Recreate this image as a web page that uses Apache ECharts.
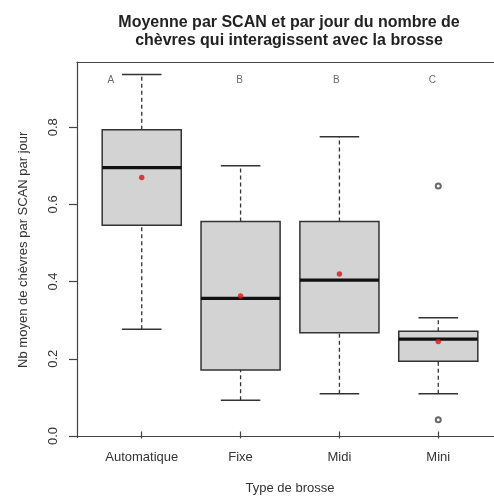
<!DOCTYPE html>
<html>
<head>
<meta charset="utf-8">
<style>
  html, body { margin: 0; padding: 0; background: #fff; }
  #chart { width: 494px; height: 500px; }
</style>
<script src="https://cdn.jsdelivr.net/npm/echarts@6/dist/echarts.min.js"></script>
</head>
<body>
<div id="chart"></div>
<script>
// brush types and their box stats: [min, Q1, median, Q3, max] (whiskers)
const categories = ['Automatique', 'Fixe', 'Midi', 'Mini'];
const lowWhisker = [0.268, 0.082, 0.099, 0.099];
const q1 = [0.541, 0.161, 0.259, 0.184];
const medians = [0.692, 0.349, 0.397, 0.242];
const q3 = [0.791, 0.551, 0.551, 0.263];
const highWhisker = [0.936, 0.697, 0.773, 0.298];
const means = [0.666, 0.355, 0.413, 0.236];
// outliers: [category index, value]
const outliers = [[3, 0.644], [3, 0.031]];
// significance letters
const letters = ['A', 'B', 'B', 'C'];
const letterY = 0.922;
const yTicks = [0, 0.2, 0.4, 0.6, 0.8];

const font = '"Liberation Sans", Arial, sans-serif';
const textColor = '#333';
const frameColor = '#444';
const yMin = -0.004;
const yMax = 0.969;

const boxData = categories.map((c, i) => [i, lowWhisker[i], q1[i], medians[i], q3[i], highWhisker[i]]);
const letterOffsets = [-31, -1, -3, -6];

const chart = echarts.init(document.getElementById('chart'));

chart.setOption({
  animation: false,
  title: {
    text: 'Moyenne par SCAN et par jour du nombre de\nchèvres qui interagissent avec la brosse',
    left: 289,
    top: 14,
    padding: 0,
    textAlign: 'center',
    textStyle: {
      fontFamily: font,
      fontSize: 16,
      fontWeight: 'bold',
      color: '#222',
      lineHeight: 18
    }
  },
  grid: [
    // frame + y axis (right side runs off the picture)
    { left: 77, right: 0, top: 62, bottom: 62.5 },
    // boxes
    { left: 92.3, right: 6.3, top: 62, bottom: 62.5 }
  ],
  xAxis: [
    {
      gridIndex: 0, type: 'value', min: 0, max: 1, position: 'bottom',
      axisLine: { show: true, lineStyle: { color: frameColor, width: 1.2 } },
      axisTick: { show: false }, axisLabel: { show: false }, splitLine: { show: false }
    },
    {
      gridIndex: 0, type: 'value', min: 0, max: 1, position: 'top',
      axisLine: { show: true, lineStyle: { color: frameColor, width: 1.2 } },
      axisTick: { show: false }, axisLabel: { show: false }, splitLine: { show: false }
    },
    {
      gridIndex: 1,
      type: 'category',
      data: categories,
      name: 'Type de brosse',
      nameLocation: 'middle',
      nameGap: 49,
      nameTextStyle: { fontFamily: font, fontSize: 13, color: textColor },
      axisLine: { show: false },
      axisTick: { show: true, inside: false, length: 7, alignWithLabel: true, lineStyle: { color: frameColor, width: 1.2 } },
      axisLabel: { margin: 18, fontFamily: font, fontSize: 13, color: textColor },
      splitLine: { show: false }
    }
  ],
  yAxis: [
    {
      gridIndex: 0,
      type: 'value',
      min: yMin,
      max: yMax,
      name: 'Nb moyen de chèvres par SCAN par jour',
      nameLocation: 'middle',
      nameGap: 47,
      nameTextStyle: { fontFamily: font, fontSize: 13, color: textColor },
      axisLine: { show: true, lineStyle: { color: frameColor, width: 1.2 } },
      axisTick: { show: true, inside: false, length: 8, customValues: yTicks, lineStyle: { color: frameColor, width: 1.2 } },
      axisLabel: {
        rotate: 90,
        margin: 17,
        customValues: yTicks,
        fontFamily: font,
        fontSize: 13,
        color: textColor,
        formatter: v => v.toFixed(1)
      },
      splitLine: { show: false }
    },
    { gridIndex: 1, type: 'value', min: yMin, max: yMax, show: false }
  ],
  series: [
    {
      type: 'custom',
      xAxisIndex: 2,
      yAxisIndex: 1,
      data: boxData,
      encode: { x: 0, y: [1, 2, 3, 4, 5] },
      renderItem(params, api) {
        const i = api.value(0);
        const pLo = api.coord([i, api.value(1)]);
        const pQ1 = api.coord([i, api.value(2)]);
        const pMed = api.coord([i, api.value(3)]);
        const pQ3 = api.coord([i, api.value(4)]);
        const pHi = api.coord([i, api.value(5)]);
        const cx = pMed[0];
        const bw = api.size([1, 0])[0] * 0.8;
        const cw = bw / 2;
        const dash = { stroke: '#333', lineWidth: 1.3, lineDash: [4, 3] };
        const solid = { stroke: '#333', lineWidth: 1.5 };
        return {
          type: 'group',
          children: [
            { type: 'line', shape: { x1: cx, y1: pQ3[1], x2: cx, y2: pHi[1] }, style: dash },
            { type: 'line', shape: { x1: cx, y1: pLo[1], x2: cx, y2: pQ1[1] }, style: dash },
            { type: 'line', shape: { x1: cx - cw / 2, y1: pHi[1], x2: cx + cw / 2, y2: pHi[1] }, style: solid },
            { type: 'line', shape: { x1: cx - cw / 2, y1: pLo[1], x2: cx + cw / 2, y2: pLo[1] }, style: solid },
            {
              type: 'rect',
              shape: { x: cx - bw / 2, y: pQ3[1], width: bw, height: pQ1[1] - pQ3[1] },
              style: { fill: '#d3d3d3', stroke: '#333', lineWidth: 1.5 }
            },
            { type: 'line', shape: { x1: cx - bw / 2, y1: pMed[1], x2: cx + bw / 2, y2: pMed[1] }, style: { stroke: '#111', lineWidth: 3.2 } }
          ]
        };
      },
      z: 2
    },
    {
      type: 'scatter',
      xAxisIndex: 2,
      yAxisIndex: 1,
      data: means.map((v, i) => [i, v]),
      symbol: 'circle',
      symbolSize: 5.5,
      itemStyle: { color: '#d4181f' },
      z: 4
    },
    {
      type: 'scatter',
      xAxisIndex: 2,
      yAxisIndex: 1,
      data: outliers,
      symbol: 'emptyCircle',
      symbolSize: 5,
      itemStyle: { color: '#444', borderColor: '#444', borderWidth: 1 },
      z: 4
    },
    {
      type: 'scatter',
      xAxisIndex: 2,
      yAxisIndex: 1,
      data: letters.map((l, i) => ({
        value: [i, letterY],
        name: l,
        label: { offset: [letterOffsets[i], 0] }
      })),
      symbolSize: 0,
      silent: true,
      label: {
        show: true,
        position: 'inside',
        formatter: p => p.name,
        fontFamily: font,
        fontSize: 10,
        color: '#444'
      },
      z: 5
    }
  ]
});
</script>
</body>
</html>
